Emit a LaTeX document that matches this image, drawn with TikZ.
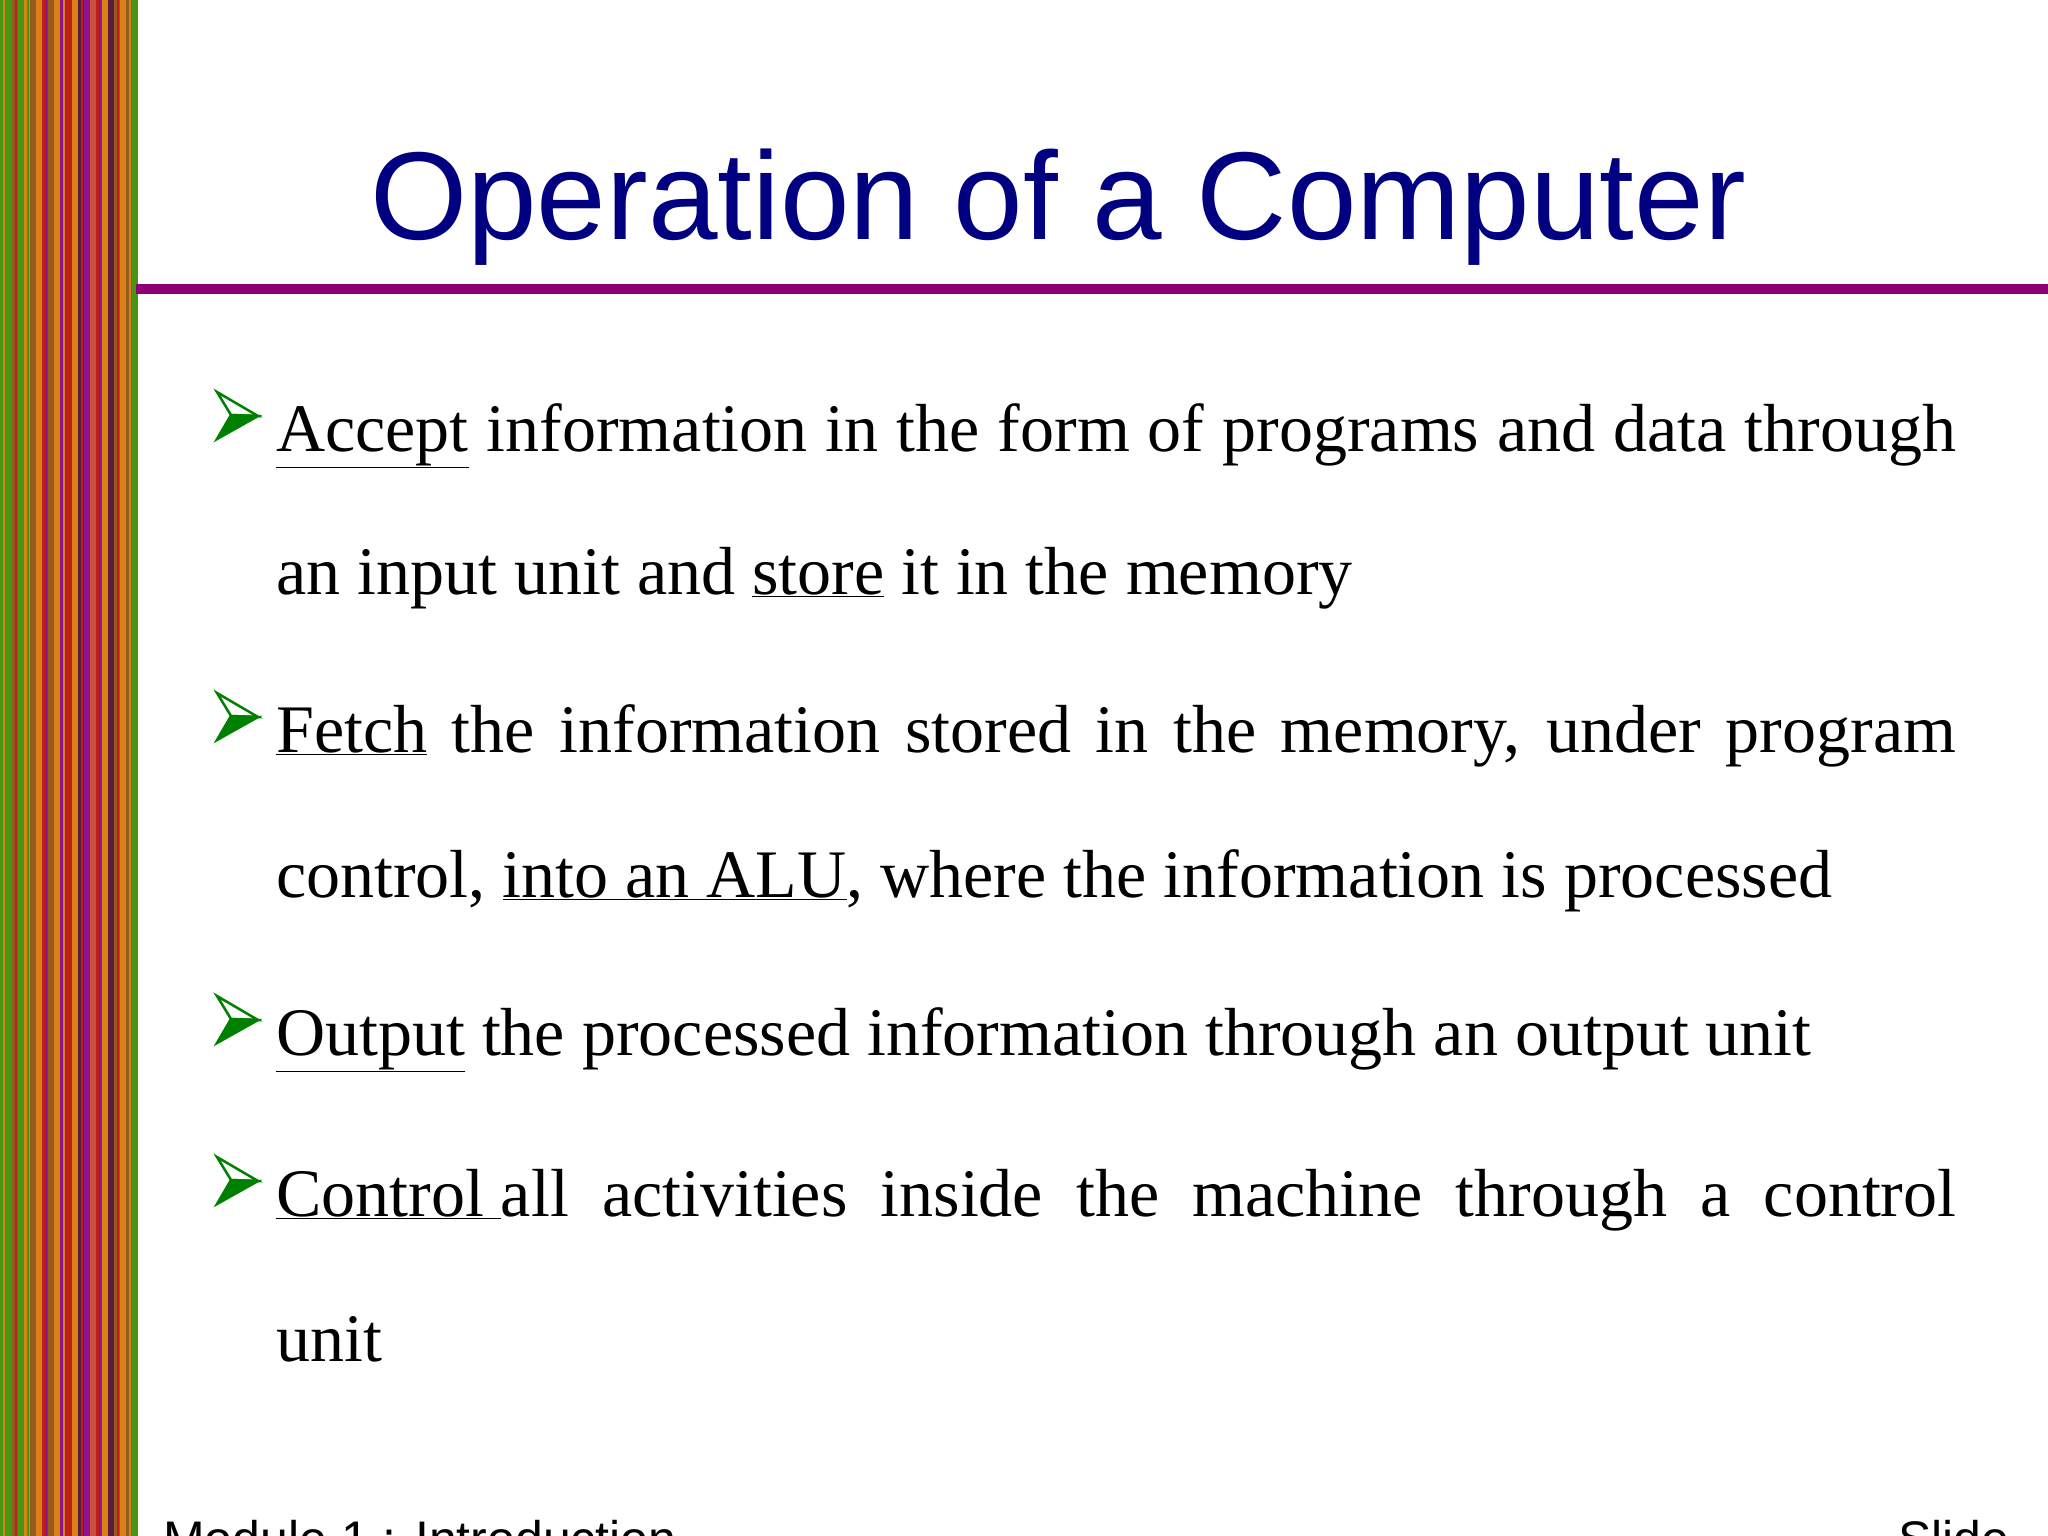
\documentclass[tikz,border=0pt]{standalone}
\usepackage{fontspec}
\setmainfont{Liberation Serif}
\setsansfont{Liberation Sans}
\begin{document}
\begin{tikzpicture}[x=1pt,y=-1pt,
  txt/.style={anchor=base west,inner sep=0pt,font=\fontsize{68}{80}\selectfont},
  bul/.style={green!50!black,line width=2.5pt,line join=miter}]
\useasboundingbox (0,0) rectangle (2048,1536);
\fill[white] (0,0) rectangle (2048,1536);
% stripe
\definecolor{sA}{RGB}{70,150,20}\definecolor{sB}{RGB}{220,130,20}\definecolor{sC}{RGB}{150,90,30}
\definecolor{sD}{RGB}{190,30,30}\definecolor{sE}{RGB}{140,20,140}\definecolor{sF}{RGB}{90,30,60}
\definecolor{sG}{RGB}{200,80,60}
\foreach \x/\c in {0/sA,6/sA,12/sC,18/sA,24/sB,30/sC,36/sB,42/sD,48/sC,54/sB,60/sE,66/sD,72/sB,78/sF,84/sE,90/sG,96/sD,102/sB,108/sF,114/sC,120/sB,126/sC,132/sA}
  \fill[\c] (\x,0) rectangle ++(6,1536);
\foreach \x/\c in {3/sB,15/sD,27/sA,45/sE,63/sB,81/sD,99/sE,117/sD,129/sB}
  \fill[\c] (\x,0) rectangle ++(2,1536);
% title
\node[anchor=base,inner sep=0pt,text=blue!50!black,font=\sffamily\fontsize{125}{140}\selectfont] (title) at (1058,239) {Operation of a Computer};
\fill[violet!90!red] (136,284) rectangle (2048,294);
% bullets
\foreach \y/\n in {451/b1,752/b2,1055/b3,1216/b4}{
  \coordinate (\n) at (0,\y);
  \draw[bul] (217,\y-59) -- (258,\y-35) -- (231,\y-36) -- cycle;
  \fill[green!50!black] (217,\y-12) -- (258,\y-35) -- (231,\y-36) -- cycle;
  \draw[bul] (217,\y-12) -- (258,\y-35) -- (231,\y-36) -- cycle;
}
\node[txt] (l1) at (276,451) {\makebox[1680pt][s]{\underline{Accept} information in the form of programs and data through}};
\node[txt] (l2) at (276,594) {an input unit and \underline{store} it in the memory};
\node[txt] (l3) at (276,752) {\makebox[1680pt][s]{\underline{Fetch} the information stored in the memory, under program}};
\node[txt] (l4) at (276,897) {control, \underline{into an ALU}, where the information is processed};
\node[txt] (l5) at (276,1055) {\underline{Output} the processed information through an output unit};
\node[txt] (l6) at (276,1216) {\makebox[1680pt][s]{\underline{Control\ }all activities inside the machine through a control}};
\node[txt] (l7) at (276,1361) {unit};
% footer
\node[anchor=base west,inner sep=0pt,font=\sffamily\fontsize{50}{60}\selectfont] (f1) at (163,1556) {Module 1 : Introduction};
\node[anchor=base west,inner sep=0pt,font=\sffamily\fontsize{50}{60}\selectfont] (f2) at (1898,1556) {Slide};
\end{tikzpicture}
\end{document}
